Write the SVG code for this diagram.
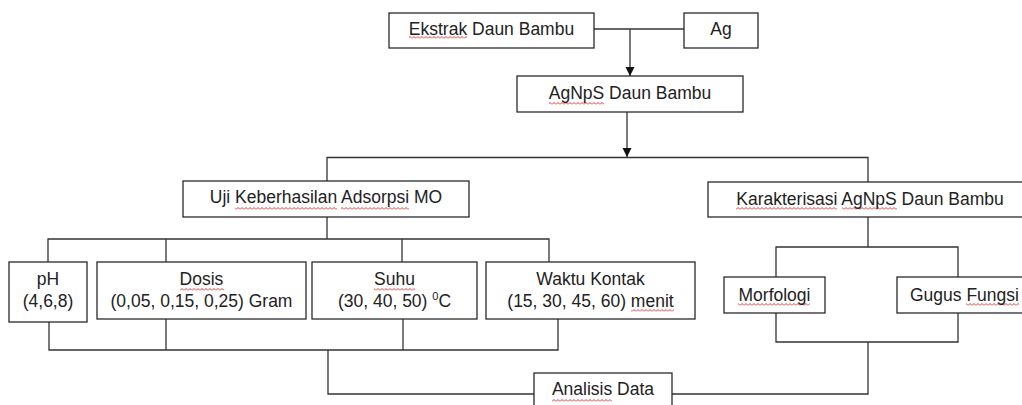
<svg xmlns="http://www.w3.org/2000/svg" width="1022" height="405" viewBox="0 0 1022 405">
<style>
.box{fill:#fff;stroke:#2a2a2a;stroke-width:1.3}
.t{font-family:"Liberation Sans",Arial,sans-serif;font-size:17.5px;fill:#222;text-anchor:middle}
.ts{font-family:"Liberation Sans",Arial,sans-serif;font-size:17.5px;fill:#222;text-anchor:start}
.c{fill:none;stroke:#333;stroke-width:1.3}
.w{fill:url(#wave)}
</style>
<defs>
<marker id="arr" markerUnits="userSpaceOnUse" markerWidth="10" markerHeight="10" refX="9" refY="4.5" orient="auto">
<path d="M0,0 L9,4.5 L0,9 z" fill="#111"/>
</marker>
<pattern id="wave" patternUnits="userSpaceOnUse" width="4" height="3">
<path d="M0,2.5 L2,0.5 L4,2.5" fill="none" stroke="#e02020" stroke-width="0.9"/>
</pattern>
</defs>
<rect width="1022" height="405" fill="#fff"/>
<g id="connectors">
<path class="c" d="M594,29 H684"/>
<path class="c" d="M630,29 V76" marker-end="url(#arr)"/>
<path class="c" d="M627,112 V157" marker-end="url(#arr)"/>
<path class="c" d="M327,181 V157.5 H868 V182"/>
<path class="c" d="M327,217 V239"/>
<path class="c" d="M48,262 V239 H549 V262"/>
<path class="c" d="M166,239 V262"/>
<path class="c" d="M402,239 V262"/>
<path class="c" d="M868,217 V247"/>
<path class="c" d="M776,277 V247 H958 V277"/>
<path class="c" d="M49,322 V350 H558 V319"/>
<path class="c" d="M166,319 V350"/>
<path class="c" d="M403,319 V350"/>
<path class="c" d="M328,350 V394 H534"/>
<path class="c" d="M776,313 V342 H958 V313"/>
<path class="c" d="M868,342 V394 H672"/>
</g>
<g id="ekstrak">
<rect class="box" x="389" y="13" width="205" height="35"/>
<rect class="w" x="409" y="36" width="58" height="3"/>
<text class="t" x="491.5" y="35">Ekstrak Daun Bambu</text>
</g>
<g id="ag">
<rect class="box" x="684" y="13" width="74" height="35"/>
<text class="t" x="721" y="35">Ag</text>
</g>
<g id="agnps">
<rect class="box" x="517" y="76" width="226" height="36"/>
<rect class="w" x="549" y="102" width="55" height="3"/>
<text class="t" x="630" y="99">AgNpS Daun Bambu</text>
</g>
<g id="uji">
<rect class="box" x="183" y="181" width="286" height="36"/>
<rect class="w" x="235" y="207" width="102" height="3"/>
<rect class="w" x="341" y="207" width="68" height="3"/>
<text class="t" x="326" y="203">Uji Keberhasilan Adsorpsi MO</text>
</g>
<g id="karakterisasi">
<rect class="box" x="708" y="182" width="324" height="35"/>
<rect class="w" x="736" y="207" width="101" height="3"/>
<rect class="w" x="842" y="207" width="55" height="3"/>
<text class="t" x="870" y="205">Karakterisasi AgNpS Daun Bambu</text>
</g>
<g id="ph">
<rect class="box" x="9" y="262" width="78" height="60"/>
<text class="t" x="48" y="285">pH</text>
<text class="t" x="48" y="307">(4,6,8)</text>
</g>
<g id="dosis">
<rect class="box" x="97" y="262" width="209" height="57"/>
<rect class="w" x="180" y="288" width="44" height="3"/>
<text class="t" x="201.5" y="285">Dosis</text>
<text class="t" x="201.5" y="307">(0,05, 0,15, 0,25) Gram</text>
</g>
<g id="suhu">
<rect class="box" x="312" y="262" width="165" height="57"/>
<rect class="w" x="374" y="288" width="41" height="3"/>
<text class="t" x="394.5" y="285">Suhu</text>
<text class="t" x="394.5" y="307">(30, 40, 50) <tspan font-size="11" dy="-7">0</tspan><tspan dy="7">C</tspan></text>
</g>
<g id="waktu">
<rect class="box" x="486" y="262" width="209" height="57"/>
<rect class="w" x="631" y="309" width="43" height="3"/>
<text class="t" x="590.5" y="285">Waktu Kontak</text>
<text class="t" x="590.5" y="307">(15, 30, 45, 60) menit</text>
</g>
<g id="morfologi">
<rect class="box" x="724" y="277" width="101" height="36"/>
<rect class="w" x="738" y="303" width="72" height="3"/>
<text class="t" x="774.5" y="301">Morfologi</text>
</g>
<g id="gugus">
<rect class="box" x="897" y="277" width="135" height="36"/>
<rect class="w" x="966" y="303" width="53" height="3"/>
<text class="ts" x="910" y="301">Gugus Fungsi</text>
</g>
<g id="analisis">
<rect class="box" x="534" y="373" width="138" height="36"/>
<rect class="w" x="552" y="399" width="60" height="3"/>
<text class="t" x="603" y="395">Analisis Data</text>
</g>
</svg>
